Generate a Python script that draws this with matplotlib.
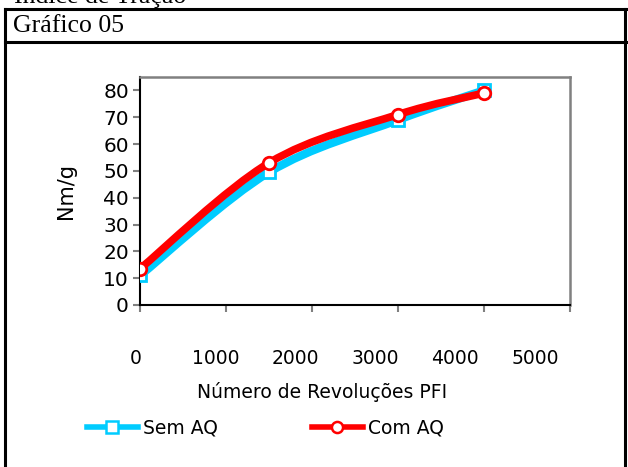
import matplotlib
matplotlib.use("Agg")
import matplotlib.pyplot as plt
from matplotlib.path import Path
from matplotlib.patches import PathPatch
from matplotlib.lines import Line2D
import matplotlib.transforms as mtransforms
import numpy as np

# dados
revolucoes = [0, 1500, 3000, 4000]
sem_aq = [11, 49.5, 69, 80]
com_aq = [13.5, 53, 71, 79]
xticks = [0, 1000, 2000, 3000, 4000, 5000]
yticks = [0, 10, 20, 30, 40, 50, 60, 70, 80]

ciano = "#00CCFF"
vermelho = "#FF0000"
W, H = 628, 467

fig = plt.figure(figsize=(W / 100, H / 100), dpi=100)
fig.patch.set_facecolor("white")

# moldura da tabela
def linha(x0, y0, x1, y1):
    fig.add_artist(Line2D([x0 / W, x1 / W], [1 - y0 / H, 1 - y1 / H],
                          color="black", lw=2.2, transform=fig.transFigure))

linha(5, 9, 628, 9)
linha(5, 42, 628, 42)
linha(5, 9, 5, 467)
linha(625, 9, 625, 467)

fig.text(14 / W, 1 - 3 / H, "Índice de Tração", family="Liberation Serif",
         fontsize=18.5, va="baseline", ha="left")
fig.text(13 / W, 1 - 26 / H, "Gráfico 05", family="Liberation Serif",
         fontsize=18.5, va="center", ha="left")

ax = fig.add_axes([140 / W, 1 - 305 / H, 430 / W, 228 / H])
ax.set_xlim(0, 5000)
ax.set_ylim(0, 85)


def suave(xs, ys):
    # curva suavizada tipo Excel (Bezier Catmull-Rom)
    pts = np.column_stack([xs, ys]).astype(float)
    verts = [pts[0]]
    codes = [Path.MOVETO]
    n = len(pts)
    for i in range(n - 1):
        p0 = pts[max(i - 1, 0)]
        p1 = pts[i]
        p2 = pts[i + 1]
        p3 = pts[min(i + 2, n - 1)]
        verts += [p1 + (p2 - p0) / 6, p2 - (p3 - p1) / 6, p2]
        codes += [Path.CURVE4] * 3
    return Path(verts, codes)


ax.add_patch(PathPatch(suave(revolucoes, sem_aq), fill=False, edgecolor=ciano,
                       lw=6, capstyle="round", joinstyle="round", zorder=3))
ax.plot(revolucoes, sem_aq, ls="none", marker="s", ms=9, mfc="white",
        mec=ciano, mew=2, zorder=4)
ax.add_patch(PathPatch(suave(revolucoes, com_aq), fill=False, edgecolor=vermelho,
                       lw=5.5, capstyle="round", joinstyle="round", zorder=5))
ax.plot(revolucoes, com_aq, ls="none", marker="o", ms=9, mfc="white",
        mec=vermelho, mew=2, zorder=6)

for s in ["top", "right"]:
    ax.spines[s].set_color("#808080")
    ax.spines[s].set_linewidth(1.8)
for s in ["left", "bottom"]:
    ax.spines[s].set_color("black")
    ax.spines[s].set_linewidth(1.5)

ax.set_yticks(yticks)
ax.set_xticks(xticks)
ax.tick_params(axis="both", direction="out", color="#808080", width=1.5,
               length=5)
ax.tick_params(axis="y", pad=3, labelsize=14.5)
ax.tick_params(axis="x", pad=27, labelsize=13.5)

# rotulos do eixo x ficam um pouco deslocados como no original
for i, lab in enumerate(ax.get_xticklabels()):
    dx = (-4 - 6.2 * i) / 100
    lab.set_transform(lab.get_transform() +
                      mtransforms.ScaledTranslation(dx, 0, fig.dpi_scale_trans))

ax.set_xlabel("Número de Revoluções PFI", fontsize=13.5, va="center")
ax.xaxis.set_label_coords((322 - 140) / 430, (305 - 392) / 228)
ax.set_ylabel("Nm/g", fontsize=15, va="center")
ax.yaxis.set_label_coords((66 - 140) / 430, 0.5)

handles = [
    Line2D([], [], color=ciano, lw=4, marker="s", ms=8, mfc="white", mec=ciano, mew=1.8),
    Line2D([], [], color=vermelho, lw=4, marker="o", ms=8, mfc="white", mec=vermelho, mew=1.8),
]
fig.legend(handles, ["Sem AQ", "Com AQ"], ncol=2, frameon=False, fontsize=13.5,
           loc="center left", bbox_to_anchor=(87 / W, 1 - 428 / H),
           borderpad=0, borderaxespad=0, handlelength=2.7, handletextpad=0.3,
           columnspacing=5.0)

fig.savefig("out.png", dpi=100, facecolor="white")
